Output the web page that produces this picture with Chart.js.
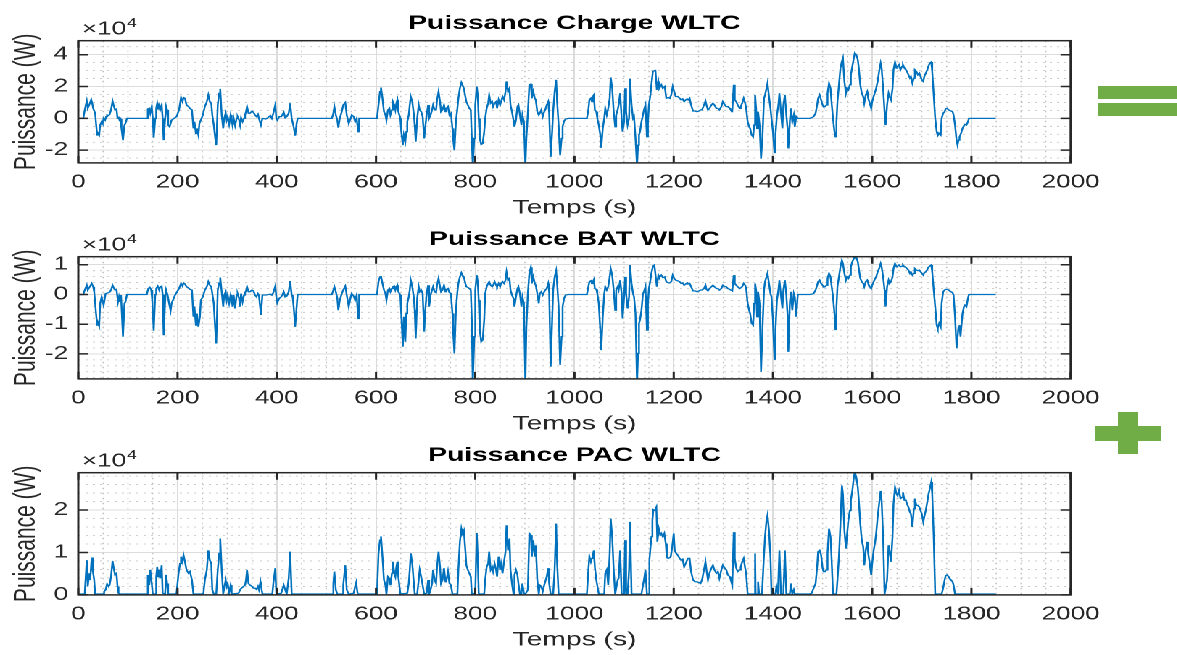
<!DOCTYPE html>
<html>
<head>
<meta charset="utf-8">
<script src="https://cdn.jsdelivr.net/npm/chart.js"></script>
<style>
  body { margin: 0; background: #fff; width: 1177px; height: 655px; overflow: hidden; position: relative; }
  /* the reference figure is stretched horizontally, so the charts are drawn narrow and widened */
  #stretch { position: absolute; left: 0; top: 0; width: 795px; height: 655px; transform: scaleX(1.45); transform-origin: 0 0; }
  .box { position: absolute; left: 0; width: 795px; height: 220px; }
  .green { position: absolute; background: #70ad47; }
</style>
</head>
<body>
<div id="stretch">
  <div class="box" style="top:0px"><canvas id="chartCharge"></canvas></div>
  <div class="box" style="top:216px"><canvas id="chartBat"></canvas></div>
  <div class="box" style="top:432px"><canvas id="chartPac"></canvas></div>
</div>
<div class="green" style="left:1098px;top:86px;width:79px;height:13px"></div>
<div class="green" style="left:1098px;top:103px;width:79px;height:13px"></div>
<div class="green" style="left:1095px;top:426px;width:66px;height:15px"></div>
<div class="green" style="left:1118px;top:412px;width:20px;height:42px"></div>
<script>
const FONT = "'Liberation Sans', Arial, Helvetica, sans-serif";
const INK = '#262626';

// time axis (s)
const xLimits = [0, 2000];
const xTickStep = 200;
const xMinorStep = 50;

// power in units of 1e4 W, as [time (s), power]
const chargeSeries = [
  [0,0],[10,0],[13,0.53],[17,1.09],[19,0.63],[22,0.84],[26,1.18],[28,0.95],[30,0.63],[34,0.32],[36,-0.42],[38,-1.05],
  [40,-0.95],[42,-1.05],[44,-0.42],[47,-0.21],[49,-0.32],[51,0],[54,-0.11],[56,0.11],[58,0.21],[61,0.17],[63,0.25],[66,0.53],
  [69,1.09],[71,0.84],[74,0.53],[77,0.59],[79,0],[81,0.11],[83,-0.11],[85,-0.04],[87,-0.63],[90,-1.37],[93,-0.42],[95,-0.32],[98,0],
  [138,0],[140,0.59],[143,0.63],[145,0.32],[148,0.74],[150,0],[152,-1.22],[155,0],[157,0.63],[159,0.95],[161,0.59],[163,0.95],
  [165,0.53],[168,0.84],[170,0],[172,-1.37],[175,0],[177,0.74],[179,0.53],[181,-0.42],[184,-0.53],[188,-0.11],[195,0.04],[198,0.11],
  [203,0.53],[207,1.31],[210,1.05],[212,1.31],[215,1.26],[218,0.84],[222,0.74],[225,0.63],[229,0.53],[232,-0.63],[234,-0.21],
  [237,-0.95],[239,-0.63],[242,-1.05],[244,-0.32],[247,-0.11],[251,0.21],[255,0.74],[259,1.05],[262,1.47],[265,1.05],[268,0.95],
  [270,0.21],[273,-0.42],[276,-1.26],[278,-1.68],[281,0.84],[284,1.58],[286,1.85],[289,0.21],[292,-0.63],[294,0],[297,0.32],
  [299,-0.11],[301,0.11],[304,-0.38],[307,0.21],[309,-0.11],[311,-0.46],[313,0],[316,-0.46],[319,0],[321,0.11],[324,-0.11],
  [326,-0.42],[328,0.04],[331,-0.21],[334,0],[336,0.21],[338,0.42],[340,0.74],[343,0.32],[346,0.32],[350,0.46],[353,0.38],
  [356,0.21],[359,0.11],[362,0.25],[364,0],[368,-0.42],[371,0],[378,-0.04],[382,0.04],[387,0.17],[390,0],[393,0.32],[397,0.84],
  [399,0],[401,-0.11],[405,0.11],[409,0.11],[411,0.21],[414,0.38],[417,0.04],[420,0.11],[424,0.32],[427,0.95],[430,0],[432,0],
  [434,-0.53],[437,-1.09],[440,-0.32],[442,0],
  [511,0],[514,0.32],[516,0.74],[519,0.21],[522,-0.11],[524,-0.59],[527,0],[531,0.42],[534,0.84],[538,0.99],[541,0.21],
  [545,-0.32],[549,0],[551,0.21],[555,0.11],[558,-0.21],[561,0],[564,-0.84],[566,0],
  [602,0],[605,0.84],[608,1.68],[610,1.94],[613,1.26],[616,0.42],[619,0.21],[621,-0.11],[624,0.53],[627,0.63],[629,0.21],
  [632,0.53],[634,1.05],[637,0.84],[639,0.53],[641,0.95],[643,1.16],[645,0.42],[649,0],[651,-0.84],[654,-1.68],[656,-1.05],
  [659,-1.47],[661,-0.84],[663,-0.21],[666,0.21],[668,0.84],[670,1.37],[673,1.05],[676,0.32],[678,-0.42],[680,-1.47],[683,0],
  [686,0.84],[688,0.53],[691,0.42],[694,0.11],[697,-1.26],[699,-0.63],[702,0.21],[705,0.84],[707,0],[710,0.21],[713,0.53],
  [715,0.84],[718,0.53],[721,0.53],[723,1.16],[726,1.68],[729,1.05],[731,0.42],[734,0.53],[737,0.84],[740,0.42],[742,0.63],
  [745,0.74],[748,0.21],[751,0.32],[754,-0.63],[756,-1.47],[758,-2.0],[761,-0.21],[764,0.63],[766,1.26],[769,1.89],[772,2.25],
  [774,2.11],[777,1.89],[780,1.37],[782,1.05],[785,0.84],[788,0.63],[791,0.53],[793,-1.26],[795,-3.0],[798,-1.26],[800,0.84],
  [803,2.0],[805,1.47],[807,0],[809,-1.26],[812,-1.64],[815,-1.58],[818,-0.84],[820,0],[823,0.63],[826,0.95],[828,1.47],
  [831,0.95],[834,1.05],[836,0.74],[839,0.95],[842,1.05],[844,0.63],[847,1.16],[850,0.84],[852,1.05],[855,1.37],[858,1.16],
  [861,1.68],[863,2.32],[866,1.68],[869,1.89],[871,0.84],[874,0.42],[877,-0.11],[879,-0.53],[882,-0.11],[885,0.74],[887,0.84],
  [890,0.21],[893,-0.42],[895,0.21],[898,-0.21],[901,-3.0],[903,-1.26],[906,0.32],[909,2.11],[912,2.15],[914,1.26],[917,1.68],
  [920,1.26],[922,1.16],[925,0.42],[928,0.21],[930,0.32],[933,0.53],[936,0.11],[939,0.42],[941,0.53],[944,0.84],[947,1.05],
  [949,0.32],[952,-2.42],[955,-0.84],[957,0.42],[960,1.68],[963,2.42],[965,1.05],[968,-0.42],[971,-2.32],[974,-1.26],
  [976,-0.53],[979,-0.17],[982,-0.04],[988,0],
  [1025,0],[1028,0.53],[1030,1.16],[1033,1.26],[1035,1.05],[1037,1.37],[1039,1.47],[1041,0.53],[1044,0.42],[1046,0],
  [1049,-0.42],[1052,-1.05],[1054,-1.85],[1057,-0.63],[1060,0],[1062,0.63],[1065,0.21],[1068,0.63],[1071,1.26],[1073,2.57],
  [1076,1.89],[1079,0.42],[1082,-0.53],[1084,0.21],[1087,0.53],[1089,0.84],[1092,1.58],[1095,0],[1097,-0.84],[1100,-0.21],
  [1102,1.89],[1104,0.42],[1107,-0.42],[1110,0],[1112,2.48],[1115,0.84],[1118,0],[1120,0.11],[1123,-1.26],[1126,-3.0],
  [1128,-1.68],[1130,-1.05],[1132,-0.84],[1135,-0.21],[1138,0.21],[1140,0.53],[1143,0.84],[1146,-1.16],[1148,-0.21],[1150,0.84],
  [1153,1.47],[1155,2.11],[1158,2.95],[1161,2.99],[1163,3.05],[1166,1.79],[1169,2.32],[1171,1.89],[1175,2.11],[1178,1.89],
  [1182,2.0],[1185,1.26],[1189,1.31],[1192,1.26],[1195,1.47],[1198,2.0],[1201,1.68],[1204,1.37],[1208,1.37],[1212,1.26],
  [1215,1.16],[1218,1.22],[1221,1.05],[1224,1.16],[1227,1.22],[1229,1.16],[1232,1.26],[1235,0.84],[1239,0.46],[1243,0.46],
  [1247,0.42],[1251,0.46],[1254,0.53],[1257,0.53],[1261,0.84],[1264,1.09],[1266,0.84],[1269,0.53],[1272,0.63],[1276,0.84],
  [1279,0.95],[1282,0.84],[1286,0.63],[1289,0.63],[1292,0.53],[1296,0.74],[1299,1.05],[1303,0.84],[1306,0.74],[1309,0.74],
  [1313,0.63],[1315,0.53],[1318,0.46],[1321,2.11],[1323,1.16],[1326,1.05],[1329,0.84],[1333,0.63],[1335,0.74],[1338,0.95],
  [1341,1.26],[1344,0.95],[1346,0.63],[1349,-0.21],[1352,-0.53],[1354,-0.63],[1357,-1.05],[1360,-1.16],[1362,-0.42],[1364,1.47],
  [1366,0.63],[1368,-0.63],[1370,0.42],[1373,-0.42],[1376,-2.53],[1379,-1.05],[1382,1.26],[1384,1.47],[1387,1.89],[1389,2.21],
  [1392,1.37],[1395,0.63],[1397,0],[1400,-0.84],[1403,-2.15],[1405,-1.05],[1408,0.21],[1411,0.84],[1413,1.58],[1416,0.42],
  [1419,-0.63],[1421,0.84],[1424,1.47],[1427,0.21],[1430,-0.84],[1431,-1.89],[1434,-0.21],[1436,0.63],[1439,-0.21],[1442,0.21],
  [1444,-0.53],[1447,0.11],[1450,0],[1474,0],[1478,0.04],[1482,0.11],[1486,0.32],[1489,0.84],[1491,1.26],[1494,1.47],
  [1497,1.16],[1500,0.84],[1502,0.74],[1505,0.74],[1508,0.84],[1510,1.58],[1513,2.21],[1516,1.89],[1518,1.05],[1521,0],
  [1524,-0.84],[1526,-1.16],[1528,-0.21],[1530,1.05],[1533,2.11],[1536,3.16],[1539,3.58],[1541,3.79],[1544,2.32],[1547,1.58],
  [1549,1.89],[1552,1.79],[1555,2.11],[1557,2.74],[1560,3.26],[1563,3.79],[1565,4.11],[1568,4.0],[1571,3.68],[1573,3.16],
  [1576,2.11],[1579,1.58],[1582,1.37],[1584,0.95],[1587,1.47],[1590,1.68],[1592,1.26],[1595,0.95],[1598,0.63],[1600,1.05],
  [1603,1.37],[1606,1.68],[1608,1.89],[1611,2.32],[1614,2.95],[1617,3.47],[1619,3.16],[1622,1.89],[1625,0.42],[1627,-0.42],
  [1630,0.84],[1633,1.58],[1635,1.37],[1638,1.16],[1641,1.89],[1643,3.05],[1646,3.54],[1649,3.16],[1651,3.26],[1654,3.37],
  [1657,3.05],[1660,3.26],[1662,3.37],[1665,3.16],[1668,3.05],[1670,2.95],[1673,2.74],[1676,2.53],[1678,2.63],[1681,2.21],
  [1684,2.53],[1686,3.05],[1689,2.95],[1692,2.74],[1695,2.84],[1697,2.84],[1700,2.42],[1703,2.32],[1705,2.63],[1708,2.84],
  [1711,3.05],[1713,3.26],[1716,3.47],[1719,3.54],[1721,2.95],[1724,1.47],[1727,0],[1730,-0.84],[1732,-1.09],[1735,-0.95],
  [1738,-1.05],[1740,0],[1743,0.32],[1746,0.42],[1748,0.59],[1751,0.63],[1754,0.53],[1756,0.53],[1759,0.46],[1762,0.42],
  [1764,0.21],[1767,-0.42],[1770,-1.37],[1772,-1.68],[1774,-1.37],[1776,-1.16],[1779,-0.95],[1782,-0.63],[1785,-0.46],
  [1787,-0.38],[1790,-0.42],[1793,-0.21],[1795,0],[1849,0]
];

const batSeries = [
  [0,0],[10,0],[13,0.15],[17,0.31],[19,0.15],[24,0.28],[27,0.37],[30,0.26],[32,0.09],[36,-0.69],[38,-1.03],[40,-0.97],
  [42,-1.06],[44,-0.30],[47,-0.08],[51,-0.36],[55,0.03],[61,0.06],[64,0.09],[67,0.20],[69,0.31],[72,0.20],[74,0.15],[77,0.17],
  [80,-0.25],[82,-0.08],[84,-0.25],[86,-0.02],[90,-1.42],[93,-0.30],[95,-0.25],[98,0],
  [138,0],[141,0.20],[144,0.24],[147,0.15],[149,-0.19],[152,-1.22],[155,0],[157,0.20],[160,0.28],[163,0.15],[165,0.26],
  [168,0.28],[170,0],[172,-1.37],[175,-0.19],[177,0.15],[180,-0.02],[183,-0.30],[186,-0.55],[188,-0.30],[195,-0.02],[198,0.06],
  [203,0.20],[207,0.37],[210,0.28],[212,0.39],[215,0.35],[218,0.26],[222,0.22],[225,0.17],[229,0.15],[232,-0.75],[234,-0.41],
  [237,-1.03],[239,-0.64],[242,-1.09],[245,-0.75],[247,-0.19],[251,-0.08],[255,0.15],[259,0.26],[262,0.43],[265,0.31],
  [268,0.26],[270,0.03],[273,-0.30],[276,-1.20],[278,-1.65],[281,0.15],[284,0.39],[286,0.57],[289,0.09],[292,-0.41],
  [294,-0.02],[297,0.09],[299,-0.19],[301,-0.02],[304,-0.30],[307,-0.02],[309,-0.19],[311,-0.41],[313,-0.02],[316,-0.47],
  [319,-0.02],[321,0.03],[324,-0.13],[326,-0.41],[328,0.03],[331,-0.25],[334,-0.02],[336,0.06],[338,0.12],[340,0.26],
  [343,0.09],[346,0.09],[350,0.15],[353,0.12],[356,-0.02],[359,-0.08],[362,0.03],[364,-0.02],[368,-0.69],[371,-0.02],
  [378,-0.02],[387,0.01],[390,-0.02],[393,0.06],[397,0.28],[399,-0.08],[401,-0.28],[405,-0.13],[409,-0.08],[411,-0.02],
  [414,0.09],[417,-0.08],[420,-0.06],[424,0.09],[427,0.45],[430,-0.02],[432,-0.08],[434,-0.41],[437,-1.09],[440,-0.41],[442,0],
  [511,0],[514,0.15],[516,0.26],[519,0.09],[522,-0.13],[524,-0.53],[527,-0.19],[531,0.03],[534,0.15],[538,0.28],[541,-0.02],
  [545,-0.41],[549,-0.08],[551,0.03],[555,-0.06],[558,-0.19],[561,-0.02],[564,-0.81],[566,0],
  [602,0],[605,0.43],[608,0.59],[610,0.62],[613,0.37],[616,0.15],[619,0.03],[621,-0.19],[624,0.15],[627,0.20],[629,0.09],
  [632,0.20],[634,0.26],[637,0.28],[639,0.15],[641,0.26],[643,0.31],[645,0.09],[649,-0.02],[651,-0.69],[654,-1.76],[656,-0.75],
  [659,-1.59],[661,-0.64],[663,-0.30],[666,-0.08],[668,0.15],[670,0.48],[673,0.26],[676,-0.08],[678,-0.53],[680,-1.48],
  [683,-0.13],[686,0.26],[688,0.09],[691,0.15],[694,0.03],[697,-1.25],[699,-0.58],[702,0.03],[705,0.31],[707,-0.41],[710,-0.02],
  [713,0.15],[715,0.26],[718,0.09],[721,0.06],[723,0.31],[726,0.54],[729,0.26],[731,0.09],[734,0.15],[737,0.31],[740,0.09],
  [742,0.17],[745,0.20],[748,0.06],[751,0.03],[754,-0.64],[756,-1.42],[758,-1.98],[761,-0.53],[764,0.09],[766,0.37],[769,0.59],
  [772,0.73],[774,0.65],[777,0.59],[780,0.37],[782,0.26],[785,0.24],[788,0.20],[791,0.15],[793,-0.86],[795,-3.0],[798,-1.42],
  [800,0.15],[803,0.65],[805,0.43],[807,-0.19],[809,-1.20],[812,-1.59],[815,-1.53],[818,-0.86],[820,0.03],[823,0.26],[826,0.37],
  [828,0.43],[831,0.31],[834,0.26],[836,0.31],[839,0.43],[842,0.31],[844,0.26],[847,0.37],[850,0.26],[852,0.37],[855,0.43],
  [858,0.37],[861,0.48],[863,0.76],[866,0.48],[869,0.54],[871,0.15],[874,-0.02],[877,-0.13],[879,-0.41],[882,-0.08],[885,0.20],
  [887,0.26],[890,0.03],[893,-0.41],[895,-0.08],[898,-0.30],[901,-3.0],[903,-1.09],[906,0.03],[909,0.71],[912,0.91],[914,0.37],
  [917,0.59],[920,0.37],[922,0.31],[925,0.03],[928,-0.30],[930,0.03],[933,0.09],[936,-0.02],[939,0.09],[941,0.15],[944,0.20],
  [947,0.37],[949,0.09],[952,-2.43],[955,-0.86],[957,0.15],[960,0.59],[963,0.80],[965,0.37],[968,-0.41],[971,-2.37],[974,-1.42],
  [976,-0.41],[979,-0.13],[982,-0.02],[988,0],
  [1025,0],[1028,0.26],[1030,0.43],[1033,0.46],[1035,0.37],[1037,0.43],[1039,0.50],[1041,0.20],[1044,0.17],[1046,0.03],
  [1049,-0.30],[1052,-1.20],[1054,-1.87],[1057,-0.75],[1060,0.03],[1062,0.26],[1065,0.15],[1068,0.26],[1071,0.59],[1073,0.87],
  [1076,0.65],[1079,0.15],[1082,-0.53],[1084,0.15],[1087,0.26],[1089,0.15],[1092,0.48],[1095,0.03],[1097,-0.81],[1100,-0.08],
  [1102,0.59],[1104,0.03],[1107,-0.47],[1110,-0.08],[1112,0.99],[1115,0.37],[1118,0.03],[1120,-0.08],[1123,-0.64],[1126,-3.0],
  [1128,-1.98],[1130,-0.97],[1132,-0.86],[1135,-0.53],[1138,0.03],[1140,0.09],[1143,0.26],[1146,-1.20],[1148,-0.30],[1150,0.20],
  [1153,0.48],[1155,0.71],[1158,0.95],[1161,0.99],[1163,0.99],[1166,0.26],[1169,0.65],[1171,0.57],[1175,0.65],[1178,0.57],
  [1182,0.59],[1185,0.43],[1189,0.39],[1192,0.39],[1195,0.43],[1198,0.65],[1201,0.54],[1204,0.48],[1208,0.46],[1212,0.43],
  [1215,0.37],[1218,0.39],[1221,0.31],[1224,0.35],[1227,0.39],[1229,0.35],[1232,0.37],[1235,0.26],[1239,0.12],[1243,0.12],
  [1247,0.09],[1251,0.12],[1254,0.15],[1257,0.15],[1261,0.20],[1264,0.31],[1266,0.17],[1269,0.12],[1272,0.20],[1276,0.26],
  [1279,0.31],[1282,0.26],[1286,0.20],[1289,0.20],[1292,0.15],[1296,0.20],[1299,0.31],[1303,0.26],[1306,0.26],[1309,0.20],
  [1313,0.17],[1315,0.15],[1318,0.12],[1321,0.65],[1323,0.37],[1326,0.31],[1329,0.26],[1333,0.20],[1335,0.20],[1338,0.26],
  [1341,0.37],[1344,0.31],[1346,0.20],[1349,-0.30],[1352,-0.53],[1354,-0.64],[1357,-0.97],[1360,-1.03],[1362,-0.30],[1364,0.37],
  [1366,0.15],[1368,-0.75],[1370,0.09],[1373,-0.30],[1376,-2.60],[1379,-1.09],[1382,0.15],[1384,0.43],[1387,0.59],[1389,0.71],
  [1392,0.37],[1395,0.03],[1397,-0.08],[1400,-0.86],[1403,-2.18],[1405,-1.20],[1408,-0.19],[1411,0.15],[1413,0.48],[1416,-0.02],
  [1419,-0.47],[1421,0.15],[1424,0.48],[1427,-0.02],[1430,-0.86],[1431,-1.93],[1434,-0.30],[1436,0.09],[1439,-0.53],[1442,0.03],
  [1444,-0.08],[1447,-0.75],[1450,0],[1474,0],[1478,0.01],[1482,0.03],[1486,0.15],[1489,0.31],[1491,0.43],[1494,0.48],
  [1497,0.37],[1500,0.31],[1502,0.26],[1505,0.26],[1508,0.31],[1510,0.54],[1513,0.71],[1516,0.59],[1518,0.31],[1521,-0.08],
  [1524,-0.64],[1526,-1.18],[1528,-0.41],[1530,0.26],[1533,0.59],[1536,0.93],[1539,1.15],[1541,1.04],[1544,0.71],[1547,0.48],
  [1549,0.59],[1552,0.54],[1555,0.65],[1557,0.93],[1560,1.10],[1563,1.21],[1565,1.27],[1568,1.24],[1571,1.10],[1573,0.87],
  [1576,0.54],[1579,0.43],[1582,0.37],[1584,0.26],[1587,0.43],[1590,0.48],[1592,0.37],[1595,0.26],[1598,0.20],[1600,0.31],
  [1603,0.43],[1606,0.54],[1608,0.59],[1611,0.76],[1614,0.87],[1617,1.04],[1619,0.93],[1622,0.59],[1625,0.15],[1627,-0.41],
  [1630,0.26],[1633,0.48],[1635,0.37],[1638,0.43],[1641,0.59],[1643,0.87],[1646,1.04],[1649,0.93],[1651,0.95],[1654,0.99],
  [1657,0.93],[1660,0.95],[1662,0.99],[1665,0.93],[1668,0.91],[1670,0.87],[1673,0.82],[1676,0.71],[1678,0.76],[1681,0.65],
  [1684,0.71],[1686,0.87],[1689,0.82],[1692,0.80],[1695,0.82],[1697,0.82],[1700,0.71],[1703,0.65],[1705,0.73],[1708,0.76],
  [1711,0.84],[1713,0.91],[1716,0.95],[1719,0.99],[1721,0.76],[1724,0.15],[1727,-0.41],[1730,-1.03],[1732,-1.14],[1735,-0.97],
  [1738,-1.09],[1740,-0.30],[1743,0.09],[1746,0.15],[1748,0.17],[1751,0.17],[1754,0.15],[1756,0.12],[1759,0.09],[1762,0.06],
  [1764,-0.02],[1767,-0.75],[1770,-1.81],[1774,-1.09],[1776,-1.03],[1778,-1.42],[1782,-0.64],[1785,-0.41],[1787,-0.36],
  [1790,-0.41],[1793,-0.13],[1795,0],[1849,0]
];

const pacSeries = [
  [0,0.02],[13,0.02],[17,0.82],[19,0.20],[22,0.51],[24,0.35],[27,0.88],[29,0.59],[32,0.35],[34,0.02],[51,0.02],[52,0.08],
  [55,0.12],[58,0.26],[61,0.20],[63,0.23],[66,0.43],[69,0.80],[71,0.66],[74,0.47],[77,0.51],[79,0.20],[81,0.04],[84,0.02],
  [138,0.02],[140,0.47],[143,0.23],[145,0.59],[148,0.27],[150,0.02],[155,0.02],[157,0.43],[159,0.66],[161,0.43],[163,0.59],
  [165,0.39],[168,0.70],[170,0.04],[175,0.02],[177,0.47],[179,0.27],[181,0.02],[195,0.02],[198,0.04],[202,0.51],[205,0.74],
  [207,0.90],[210,0.78],[212,0.94],[215,0.78],[218,0.59],[222,0.51],[225,0.55],[229,0.35],[232,0.02],[252,0.02],[255,0.35],
  [259,0.59],[262,1.05],[265,0.82],[268,0.74],[270,0.12],[273,0.02],[278,0.02],[281,0.59],[284,0.98],[286,1.33],[289,0.59],
  [292,0.02],[294,0.16],[297,0.35],[299,0.20],[301,0.27],[304,0.04],[307,0.23],[309,0.02],[323,0.04],[326,0.12],[329,0.16],
  [333,0.20],[336,0.23],[338,0.35],[340,0.59],[343,0.27],[346,0.23],[350,0.20],[353,0.16],[356,0.16],[359,0.13],[362,0.20],
  [364,0.12],[367,0.31],[368,0.23],[371,0.02],[391,0.02],[393,0.27],[397,0.63],[399,0.02],[409,0.04],[411,0.12],[414,0.23],
  [417,0.12],[420,0.02],[424,0.39],[427,1.02],[430,0.02],
  [513,0.02],[514,0.27],[516,0.55],[519,0.12],[522,0.02],[532,0.02],[534,0.23],[538,0.70],[541,0.12],[545,0.02],[555,0.04],
  [558,0.20],[560,0.29],[563,0.02],
  [602,0.02],[605,0.98],[608,1.29],[610,1.38],[613,0.90],[616,0.35],[619,0.23],[621,0.02],[624,0.43],[627,0.39],[629,0.23],
  [632,0.51],[634,0.78],[637,0.51],[639,0.43],[641,0.66],[643,0.78],[645,0.43],[649,0.02],[663,0.04],[666,0.27],[668,0.59],
  [670,0.98],[673,0.74],[676,0.31],[678,0.02],[683,0.02],[686,0.35],[688,0.59],[691,0.43],[694,0.23],[697,0.02],[702,0.04],
  [705,0.35],[707,0.02],[710,0.12],[713,0.27],[715,0.59],[718,0.35],[721,0.27],[723,0.66],[726,1.02],[729,0.66],[731,0.27],
  [734,0.35],[737,0.63],[740,0.31],[742,0.35],[745,0.55],[748,0.27],[751,0.23],[754,0.02],[764,0.02],[766,0.59],[769,1.25],
  [772,1.56],[774,1.45],[777,1.52],[780,1.05],[782,0.70],[785,0.59],[788,0.51],[791,0.43],[793,0.02],[800,0.04],[803,1.46],
  [805,0.90],[807,0.02],[818,0.02],[820,0.35],[823,0.66],[826,0.74],[828,1.02],[831,0.59],[834,0.66],[836,0.55],[839,0.74],
  [842,0.59],[844,0.43],[847,0.90],[850,0.59],[852,0.74],[855,0.51],[858,0.78],[861,1.02],[863,1.64],[866,1.05],[869,1.33],
  [871,0.59],[874,0.27],[877,0.02],[879,0.47],[882,0.59],[885,0.47],[887,0.27],[890,0.02],[893,0.02],[895,0.27],[898,0.04],
  [901,0.02],[906,0.12],[909,1.45],[912,1.41],[914,0.90],[917,1.29],[920,0.90],[922,1.17],[925,0.35],[928,0.02],[930,0.23],
  [933,0.20],[936,0.08],[939,0.23],[941,0.31],[944,0.43],[947,0.63],[949,0.27],[952,0.02],[957,0.02],[960,0.59],[963,1.68],
  [965,0.74],[968,0.02],
  [1025,0.02],[1028,0.59],[1030,0.91],[1033,0.78],[1035,0.86],[1037,0.94],[1039,1.05],[1041,0.66],[1044,0.35],[1046,0.35],
  [1049,0.02],[1060,0.02],[1062,0.51],[1065,0.59],[1068,0.23],[1071,0.98],[1073,1.80],[1076,1.37],[1079,0.59],[1082,0.02],
  [1084,0.02],[1087,0.35],[1089,0.39],[1092,1.05],[1095,0.02],[1100,0.02],[1102,1.29],[1104,0.02],[1107,0.02],[1110,0.59],
  [1112,1.72],[1115,0.02],[1135,0.02],[1138,0.23],[1140,0.35],[1143,0.59],[1146,0.02],[1149,0.02],[1151,0.82],[1155,1.37],
  [1157,1.76],[1159,2.01],[1162,1.99],[1165,2.07],[1167,1.25],[1170,1.56],[1173,1.41],[1175,1.45],[1178,1.37],[1181,1.45],
  [1184,1.21],[1186,0.88],[1189,0.86],[1192,0.88],[1194,0.90],[1197,1.13],[1200,1.45],[1202,1.05],[1205,0.98],[1208,0.94],
  [1212,0.86],[1215,0.82],[1218,0.84],[1221,0.66],[1224,0.74],[1227,0.82],[1229,0.86],[1232,0.86],[1235,0.55],[1239,0.35],
  [1243,0.31],[1247,0.31],[1251,0.29],[1254,0.27],[1257,0.35],[1261,0.59],[1264,0.78],[1266,0.59],[1269,0.35],[1272,0.51],
  [1276,0.63],[1279,0.70],[1282,0.59],[1286,0.51],[1289,0.55],[1292,0.39],[1296,0.59],[1299,0.70],[1303,0.63],[1306,0.59],
  [1309,0.47],[1313,0.43],[1315,0.35],[1318,0.23],[1321,1.48],[1323,0.86],[1326,0.63],[1329,0.55],[1333,0.59],[1335,0.66],
  [1338,0.78],[1341,0.86],[1344,0.63],[1346,0.51],[1349,0.02],[1362,0.02],[1364,0.98],[1365,0.02],[1368,0.02],[1370,0.31],
  [1372,0.02],[1378,0.02],[1381,0.74],[1384,1.37],[1387,1.76],[1389,1.88],[1392,1.52],[1395,0.90],[1397,0.02],[1405,0.02],
  [1407,0.20],[1410,0.02],[1413,1.05],[1416,0.02],[1421,0.02],[1424,1.05],[1427,0.02],[1434,0.02],[1436,0.27],[1439,0.02],
  [1442,0.12],[1444,0.02],[1474,0.02],[1478,0.04],[1482,0.16],[1486,0.27],[1489,0.66],[1491,1.02],[1494,1.05],[1497,0.94],
  [1500,0.63],[1502,0.55],[1505,0.55],[1508,0.59],[1510,0.98],[1513,1.56],[1516,1.37],[1518,0.90],[1521,0.02],[1528,0.02],
  [1530,0.35],[1533,0.90],[1536,1.68],[1539,2.58],[1541,2.38],[1544,1.52],[1547,1.09],[1549,1.37],[1552,1.76],[1555,1.99],
  [1557,2.23],[1560,2.46],[1563,2.77],[1565,2.89],[1568,2.77],[1571,2.54],[1573,2.23],[1576,1.68],[1579,1.29],[1582,1.13],
  [1584,0.70],[1587,1.05],[1590,1.25],[1592,0.98],[1595,0.74],[1598,0.47],[1600,0.74],[1603,1.05],[1606,1.25],[1608,1.45],
  [1611,1.84],[1614,2.15],[1617,2.45],[1619,2.23],[1622,1.37],[1625,0.02],[1627,0.02],[1630,0.35],[1633,1.17],[1635,1.05],
  [1638,0.78],[1641,1.37],[1643,2.15],[1646,2.54],[1649,2.38],[1651,2.34],[1654,2.46],[1657,2.27],[1660,2.30],[1662,2.42],
  [1665,2.23],[1668,2.23],[1670,2.15],[1673,2.07],[1676,1.95],[1678,1.91],[1681,1.60],[1684,2.03],[1686,2.27],[1689,2.11],
  [1692,2.11],[1695,2.07],[1697,2.07],[1700,1.91],[1703,1.72],[1705,1.84],[1708,1.99],[1711,2.19],[1713,2.34],[1716,2.50],
  [1719,2.66],[1721,2.38],[1724,1.37],[1727,0.02],[1740,0.02],[1743,0.16],[1746,0.35],[1748,0.45],[1751,0.47],[1754,0.43],
  [1756,0.39],[1759,0.35],[1762,0.31],[1764,0.23],[1767,0.02],[1795,0.02],[1849,0.02]
];

// one entry per subplot: y limits and tick steps (units of 1e4 W)
const panels = [
  { id: 'chartCharge', title: 'Puissance Charge WLTC', series: chargeSeries, yLimits: [-2.8, 4.88], yStep: 2, yMinor: 0.5 },
  { id: 'chartBat', title: 'Puissance BAT WLTC', series: batSeries, yLimits: [-2.84, 1.27], yStep: 1, yMinor: 0.2 },
  { id: 'chartPac', title: 'Puissance PAC WLTC', series: pacSeries, yLimits: [0, 2.88], yStep: 1, yMinor: 0.2 }
];

// MATLAB-like axes: dotted minor grid, boxed axes, inward ticks on all sides, x10^4 exponent
const matlabAxes = {
  id: 'matlabAxes',
  beforeDraw(chart, args, opts) {
    const { ctx, chartArea: a, scales: { x, y } } = chart;
    ctx.save();
    ctx.strokeStyle = '#c2c2c2';
    ctx.lineWidth = 0.8;
    ctx.setLineDash([1.5, 3.5]);
    ctx.beginPath();
    for (let k = Math.ceil(x.min / opts.xMinor); k * opts.xMinor <= x.max; k++) {
      const v = k * opts.xMinor;
      if (v % opts.xMajor === 0) continue;
      const px = x.getPixelForValue(v);
      ctx.moveTo(px, a.top);
      ctx.lineTo(px, a.bottom);
    }
    ctx.stroke();
    ctx.beginPath();
    for (let k = Math.ceil(y.min / opts.yMinor - 1e-9); k * opts.yMinor <= y.max + 1e-9; k++) {
      const v = k * opts.yMinor;
      const r = v / opts.yMajor;
      if (Math.abs(r - Math.round(r)) < 1e-6) continue;
      const py = y.getPixelForValue(v);
      ctx.moveTo(a.left, py);
      ctx.lineTo(a.right, py);
    }
    ctx.stroke();
    ctx.restore();
  },
  afterDraw(chart) {
    const { ctx, chartArea: a, scales: { x, y } } = chart;
    const len = 7;
    ctx.save();
    ctx.strokeStyle = INK;
    ctx.lineWidth = 1.5;
    ctx.beginPath();
    x.ticks.forEach(t => {
      const px = x.getPixelForValue(t.value);
      ctx.moveTo(px, a.bottom); ctx.lineTo(px, a.bottom - len);
      ctx.moveTo(px, a.top); ctx.lineTo(px, a.top + len);
    });
    y.ticks.forEach(t => {
      const py = y.getPixelForValue(t.value);
      ctx.moveTo(a.left, py); ctx.lineTo(a.left + len, py);
      ctx.moveTo(a.right, py); ctx.lineTo(a.right - len, py);
    });
    ctx.stroke();
    ctx.strokeRect(a.left, a.top, a.right - a.left, a.bottom - a.top);

    ctx.fillStyle = INK;
    ctx.textAlign = 'left';
    ctx.textBaseline = 'alphabetic';
    ctx.font = `18px ${FONT}`;
    const ex = a.left + 2.5, ey = a.top - 6;
    ctx.fillText('\u00d710', ex, ey);
    const w = ctx.measureText('\u00d710').width;
    ctx.font = `12.5px ${FONT}`;
    ctx.fillText('4', ex + w + 0.5, ey - 7.5);
    ctx.restore();
  }
};

panels.forEach(p => {
  new Chart(document.getElementById(p.id), {
    type: 'line',
    data: {
      datasets: [{
        data: p.series.map(([t, w]) => ({ x: t, y: w })),
        borderColor: '#0072BD',
        borderWidth: 1.25,
        pointRadius: 0,
        tension: 0,
        fill: false
      }]
    },
    options: {
      responsive: true,
      maintainAspectRatio: false,
      animation: false,
      devicePixelRatio: 2,
      layout: { padding: { left: 0, right: 56.6, top: 0, bottom: 0 } },
      scales: {
        x: {
          type: 'linear',
          min: xLimits[0],
          max: xLimits[1],
          afterFit: s => { s.height = 57.1; },
          ticks: {
            stepSize: xTickStep,
            autoSkip: false,
            maxRotation: 0,
            padding: 9,
            color: INK,
            font: { size: 18, family: FONT },
            callback: v => String(v)
          },
          grid: { color: '#dcdcdc', lineWidth: 1, drawTicks: false },
          border: { display: false },
          title: { display: true, text: 'Temps (s)', color: INK, font: { size: 19.5, family: FONT }, padding: { top: 0, bottom: 0 } }
        },
        y: {
          min: p.yLimits[0],
          max: p.yLimits[1],
          afterFit: s => { s.width = 54; },
          ticks: {
            stepSize: p.yStep,
            includeBounds: false,
            padding: 7,
            color: INK,
            font: { size: 18, family: FONT }
          },
          grid: { color: '#dcdcdc', lineWidth: 1, drawTicks: false },
          border: { display: false },
          title: { display: true, text: 'Puissance (W)', color: INK, font: { size: 21, family: FONT }, padding: { top: 5.5, bottom: 0 } }
        }
      },
      plugins: {
        legend: { display: false },
        tooltip: { enabled: false },
        title: {
          display: true,
          text: p.title,
          fullSize: false,
          color: '#000',
          font: { size: 19.5, weight: 'bold', family: FONT },
          padding: { top: 11.7, bottom: 5.6 }
        },
        matlabAxes: { xMajor: xTickStep, xMinor: xMinorStep, yMajor: p.yStep, yMinor: p.yMinor }
      }
    },
    plugins: [matlabAxes]
  });
});
</script>
</body>
</html>
